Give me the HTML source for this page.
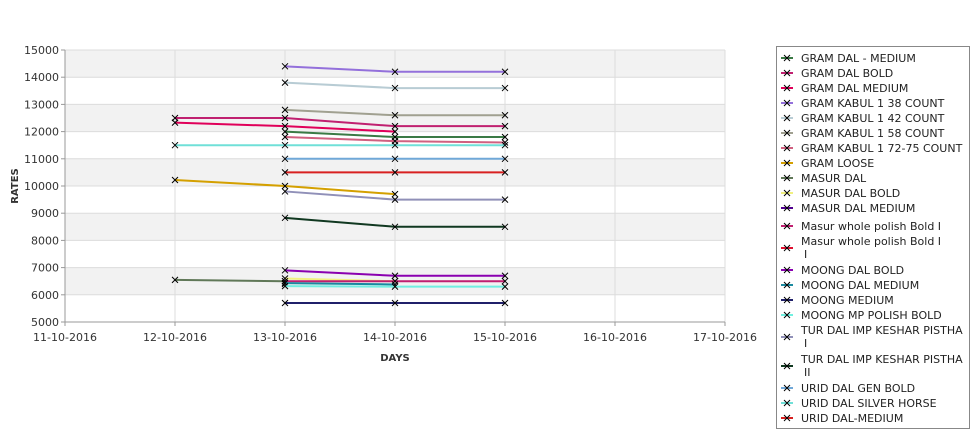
<!DOCTYPE html>
<html><head><meta charset="utf-8"><style>
body{margin:0;background:#fff;font-family:"Liberation Sans","DejaVu Sans",sans-serif}
svg text{font-family:"DejaVu Sans","Liberation Sans",sans-serif}
</style></head><body>
<svg id="chart" width="975" height="429" xmlns="http://www.w3.org/2000/svg">
<g id="bands"></g><g id="grid"></g><g id="axes"></g><g id="series"></g><g id="legend"></g>
</svg>
<script>
const dates=["11-10-2016","12-10-2016","13-10-2016","14-10-2016","15-10-2016","16-10-2016","17-10-2016"];
const yTicks=[5000,6000,7000,8000,9000,10000,11000,12000,13000,14000,15000];
const seriesNames=["GRAM DAL - MEDIUM","GRAM DAL BOLD","GRAM DAL MEDIUM","GRAM KABUL 1 38 COUNT","GRAM KABUL 1 42 COUNT","GRAM KABUL 1 58 COUNT","GRAM KABUL 1 72-75 COUNT","GRAM LOOSE","MASUR DAL","MASUR DAL BOLD","MASUR DAL MEDIUM","Masur whole polish Bold I","Masur whole polish Bold I I","MOONG DAL BOLD","MOONG DAL MEDIUM","MOONG MEDIUM","MOONG MP POLISH BOLD","TUR DAL IMP KESHAR PISTHA I","TUR DAL IMP KESHAR PISTHA II","URID DAL GEN BOLD","URID DAL SILVER HORSE","URID DAL-MEDIUM"];
const seriesColors=["#3a7a45","#c02070","#e0005a","#9370db","#b8ccd4","#a0a090","#d06080","#d4a000","#607858","#f0f080","#500090","#c02070","#e01030","#8a00b0","#1a8aa0","#20206a","#70f0e0","#9090b8","#103820","#70a8d8","#70e0d8","#d82020"];
// values indexed by day index (0 = 11-10); null = no data
const seriesValues=[
[null,null,12000,11800,11800],
[null,12500,12500,12200,12200],
[null,12330,12200,12000,null],
[null,null,14400,14200,14200],
[null,null,13800,13600,13600],
[null,null,12800,12600,12600],
[null,null,11800,11650,11600],
[null,10220,10000,9700,null],
[null,6550,6500,null,null],
[null,null,6600,6500,null],
[null,null,6400,null,null],
[null,null,6500,6500,6500],
[null,null,null,null,null],
[null,null,6900,6700,6700],
[null,null,6430,6380,null],
[null,null,5700,5700,5700],
[null,null,6320,6300,6300],
[null,null,9800,9500,9500],
[null,null,8830,8500,8500],
[null,null,11000,11000,11000],
[null,11500,11500,11500,11500],
[null,null,10500,10500,10500]];
const legendTwoLine=[false,false,false,false,false,false,false,false,false,false,false,false,true,false,false,false,false,true,true,false,false,false];

const NS="http://www.w3.org/2000/svg";
const X0=65,X1=725,Y0=322,Y1=50;
const xScale=i=>X0+(X1-X0)*i/(dates.length-1);
const yScale=v=>Y0-(v-yTicks[0])/(yTicks[yTicks.length-1]-yTicks[0])*(Y0-Y1);
function mk(tag,attrs,parent,txt){const e=document.createElementNS(NS,tag);for(const k in attrs)e.setAttribute(k,attrs[k]);if(txt!==undefined)e.textContent=txt;parent.appendChild(e);return e;}
const bands=document.getElementById('bands'),grid=document.getElementById('grid'),axes=document.getElementById('axes'),ser=document.getElementById('series'),leg=document.getElementById('legend');
for(let i=0;i<yTicks.length-1;i++){if(i%2===1){const r=mk('rect',{x:X0,y:yScale(yTicks[i+1]),width:X1-X0,height:yScale(yTicks[i])-yScale(yTicks[i+1]),fill:'#f2f2f2'},bands);

}}
yTicks.forEach(v=>{const y=yScale(v);
const l=mk('line',{x1:X0,x2:X1,y1:y,y2:y,stroke:'#dcdcdc','stroke-width':1},grid);


mk('line',{x1:X0-4,x2:X0,y1:y,y2:y,stroke:'#999'},axes);
const t=mk('text',{x:X0-6,y:y+4,'text-anchor':'end','font-size':11,fill:'#333'},axes,v);

});
dates.forEach((d,i)=>{const x=xScale(i);
const l=mk('line',{x1:x,x2:x,y1:Y1,y2:Y0,stroke:'#dcdcdc'},grid);


mk('line',{x1:x,x2:x,y1:Y0,y2:Y0+4,stroke:'#999'},axes);
const t=mk('text',{x:x,y:341,'text-anchor':'middle','font-size':11,fill:'#333'},axes,d);

});
mk('line',{x1:X0,x2:X0,y1:Y1,y2:Y0,stroke:'#999'},axes);
mk('line',{x1:X0,x2:X1,y1:Y0,y2:Y0,stroke:'#999'},axes);
const yt=mk('text',{x:0,y:0,transform:'translate(18,186) rotate(-90)','text-anchor':'middle','font-size':10,'font-weight':'bold',fill:'#333'},axes,'RATES');


const xt=mk('text',{x:395,y:361,'text-anchor':'middle','font-size':10,'font-weight':'bold',fill:'#333'},axes,'DAYS');


function marker(x,y,p){const g=mk('path',{d:`M${x-3},${y-3}L${x+3},${y+3}M${x-3},${y+3}L${x+3},${y-3}`,stroke:'#000','stroke-width':1},p);return g;}
seriesValues.forEach((vals,s)=>{const g=mk('g',{},ser);


const pts=[];vals.forEach((v,i)=>{if(v!==null)pts.push([xScale(i),yScale(v)]);});
if(pts.length>1){const pl=mk('polyline',{points:pts.map(p=>p.join(',')).join(' '),fill:'none',stroke:seriesColors[s],'stroke-width':2},g);

}
pts.forEach(p=>{const m=marker(p[0],p[1],g);

});});
const box=mk('rect',{x:776.5,y:46.5,width:193,height:382,fill:'#fff',stroke:'#888'},leg);


let ly=58;
seriesNames.forEach((n,s)=>{const two=legendTwoLine[s];const my=two?ly+7:ly;
const g=mk('g',{},leg);


mk('line',{x1:781,x2:793,y1:my,y2:my,stroke:seriesColors[s],'stroke-width':2},g);
marker(787,my,g);
if(two){const parts=n.split(/ (?=I+$)/);mk('text',{x:801,y:ly+4,'font-size':11,fill:'#222'},g,parts[0]);mk('text',{x:804,y:ly+17,'font-size':11,fill:'#222'},g,parts[1]||'');ly+=29;}
else{mk('text',{x:801,y:ly+4,'font-size':11,fill:'#222'},g,n);ly+=(s===10?18:15);}
});
</script>
</body></html>
